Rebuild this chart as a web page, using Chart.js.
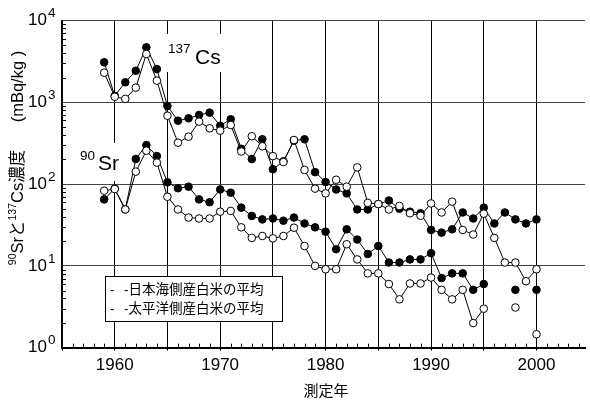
<!DOCTYPE html>
<html>
<head>
<meta charset="utf-8">
<script src="https://cdn.jsdelivr.net/npm/chart.js@4.4.0/dist/chart.umd.min.js"></script>
<style>
  html, body { margin: 0; padding: 0; background: #fff; }
</style>
</head>
<body>
<canvas id="chart" width="590" height="401"></canvas>
<script>
// === Данные ===
const years = [1959, 1960, 1961, 1962, 1963, 1964, 1965, 1966, 1967, 1968, 1969,
  1970, 1971, 1972, 1973, 1974, 1975, 1976, 1977, 1978, 1979,
  1980, 1981, 1982, 1983, 1984, 1985, 1986, 1987, 1988, 1989,
  1990, 1991, 1992, 1993, 1994, 1995, 1996, 1997, 1998, 1999, 2000];

// 137Cs, Japan Sea side (filled)
const csJapanSea = [3085, 1200, 1755, 2430, 4700, 2550, 900, 596, 637, 700, 747,
  517, 620, 270, 202, 353, 152, 190, 340, 353, 140,
  106, 86, 77, 49, 49, 57, 63, 50, 46, 44,
  27.5, 25.5, 28, 45, 38, 51.5, 33, 45, 37, 33, 37];
// 137Cs, Pacific side (open)
const csPacific = [2300, 1170, 1100, 1510, 3890, 1840, 685, 321, 380, 580, 481,
  450, 527, 250, 385, 290, 220, 186, 346, 149, 88,
  77, 113, 93, 160, 59, 57, 49, 54, 44, 41,
  58, 45, 61, 27.5, 24.2, 43.5, 22, 11, 11, 6.5, 9.1];
// 90Sr, Japan Sea side (filled)
const srJapanSea = [65, 88, 49, 203, 300, 220, 105, 89, 93, 65, 60,
  86, 78.5, 51.5, 40.8, 37, 38, 35.7, 39, 33, 29.6,
  26.2, 16, 28, 21, 14, 17.5, 11, 11, 12, 12,
  14.3, 7.1, 8.1, 8.1, 5.1, 6.0, null, null, 5.1, null, 5.1];
// 90Sr, Pacific side (open)
const srPacific = [83, 87, 49, 142, 256, 183, 70, 49, 39, 38, 38,
  46, 47, 29.6, 22, 23.2, 21.7, 23.2, 29.3, 17.5, 10,
  9.1, 9.1, 18.4, 12, 8.1, 8.1, 6, 3.9, 6.1, 6.1,
  7.2, 5.1, 3.9, 5.1, 2.0, 3.0, null, null, 3.1, null, 1.46];

const xTicks = [1955, 1960, 1965, 1970, 1975, 1980, 1985, 1990, 1995, 2000];
const yDecades = [1, 10, 100, 1000, 10000];
const legendLabels = ['-日本海側産白米の平均', '-太平洋側産白米の平均'];

const LATIN = '"Liberation Sans", Arial, sans-serif';
const CJK = '"Liberation Sans", "Noto Sans CJK JP", sans-serif';

function series(values, filled) {
  return {
    data: years.map((y, i) => ({ x: y, y: values[i] })),
    borderColor: '#000',
    borderWidth: 1,
    pointRadius: 3.8,
    pointBorderWidth: 1,
    pointBorderColor: '#000',
    pointBackgroundColor: filled ? '#000' : '#fff',
    tension: 0,
    spanGaps: false,
    order: filled ? 2 : 1
  };
}

// === Подписи, мелкие деления, легенда ===
function label(ctx, boxX, boxY, boxW, boxH, sup, supX, supY, main, mainX, mainY) {
  ctx.fillStyle = '#fff';
  ctx.fillRect(boxX, boxY, boxW, boxH);
  ctx.fillStyle = '#000';
  ctx.textBaseline = 'alphabetic';
  ctx.textAlign = 'left';
  ctx.font = '13.5px ' + LATIN;
  ctx.fillText(sup, supX, supY);
  ctx.font = '21px ' + LATIN;
  ctx.fillText(main, mainX, mainY);
}

const decor = {
  id: 'decor',
  beforeDatasetsDraw(chart) {
    const ctx = chart.ctx;
    ctx.save();
    label(ctx, 165, 34, 60, 38, '137', 168, 53, 'Cs', 195, 63.5);
    label(ctx, 76, 143, 46, 38, '90', 80, 160, 'Sr', 98, 170);
    ctx.restore();
  },
  afterDraw(chart) {
    const ctx = chart.ctx;
    const x = chart.scales.x, y = chart.scales.y;
    const a = chart.chartArea;
    ctx.save();
    ctx.strokeStyle = '#000';
    ctx.lineWidth = 1;
    ctx.beginPath();
    // мелкие деления по X
    for (let yr = 1956; yr < 2005; yr++) {
      if (yr % 5 === 0) continue;
      const px = Math.round(x.getPixelForValue(yr)) + 0.5;
      ctx.moveTo(px, a.bottom);
      ctx.lineTo(px, a.bottom - 4);
    }
    // мелкие деления по Y
    yDecades.slice(0, -1).forEach(d => {
      for (let m = 2; m <= 9; m++) {
        const py = Math.round(y.getPixelForValue(m * d)) + 0.5;
        ctx.moveTo(a.left, py);
        ctx.lineTo(a.left + 4, py);
      }
    });
    ctx.stroke();

    // подписи оси Y: 10^n
    ctx.fillStyle = '#000';
    ctx.textBaseline = 'middle';
    yDecades.forEach((d, n) => {
      const py = y.getPixelForValue(d);
      ctx.font = '17px ' + LATIN;
      ctx.textAlign = 'right';
      ctx.fillText('10', 47, py);
      ctx.font = '13.5px ' + LATIN;
      ctx.textAlign = 'left';
      ctx.fillText(String(n), 48, py - 7);
    });

    // заголовок оси Y
    const parts = [
      ['90', 10.5, -5], ['Sr', 16.5, 0], ['と', 16.5, 0], ['137', 10.5, -5],
      ['Cs濃度', 16.5, 0], ['      (mBq/kg )', 16.5, 0]
    ];
    ctx.translate(18, 158);
    ctx.rotate(-Math.PI / 2);
    let total = 0;
    parts.forEach(p => { ctx.font = p[1] + 'px ' + CJK; total += ctx.measureText(p[0]).width; });
    let cx = -total / 2;
    parts.forEach(p => {
      ctx.font = p[1] + 'px ' + CJK;
      ctx.fillText(p[0], cx, p[2]);
      cx += ctx.measureText(p[0]).width;
    });
    ctx.setTransform(1, 0, 0, 1, 0, 0);

    // заголовок оси X
    ctx.font = '15px "Noto Sans CJK JP", sans-serif';
    ctx.textAlign = 'center';
    ctx.fillText('測定年', 326, 390);

    // легенда
    ctx.fillStyle = '#fff';
    ctx.fillRect(105.5, 276.5, 177, 45);
    ctx.strokeRect(105.5, 276.5, 177, 45);
    ctx.fillStyle = '#000';
    ctx.textAlign = 'left';
    ctx.font = '13.5px ' + CJK;
    legendLabels.forEach((t, i) => {
      const ly = 290 + i * 19;
      ctx.fillText('-', 110, ly);
      ctx.fillText(t, 124, ly);
    });
    ctx.restore();
  }
};

new Chart(document.getElementById('chart'), {
  type: 'line',
  data: {
    datasets: [
      series(csJapanSea, true),
      series(csPacific, false),
      series(srJapanSea, true),
      series(srPacific, false)
    ]
  },
  options: {
    responsive: false,
    animation: false,
    devicePixelRatio: 1,
    layout: { padding: { top: 20.5, right: 0, left: 0, bottom: 0 } },
    plugins: { legend: { display: false }, tooltip: { enabled: false } },
    scales: {
      x: {
        type: 'linear',
        min: 1955,
        max: 2004.6,
        afterBuildTicks: s => { s.ticks = xTicks.map(v => ({ value: v })); },
        afterFit: s => { s.height = 53.3; },
        grid: { color: '#000', lineWidth: 1, drawTicks: true, tickLength: 3, tickColor: '#000' },
        border: { color: '#000', width: 2 },
        ticks: {
          autoSkip: false,
          maxRotation: 0,
          padding: 4,
          color: '#000',
          font: { family: LATIN, size: 17 },
          callback: v => (v % 10 === 0 ? String(v) : '')
        }
      },
      y: {
        type: 'logarithmic',
        min: 1,
        max: 10000,
        afterBuildTicks: s => { s.ticks = yDecades.map(v => ({ value: v })); },
        afterFit: s => { s.width = 62; },
        grid: { color: '#444', lineWidth: 1, drawTicks: false },
        border: { color: '#000', width: 1.5 },
        ticks: { display: false }
      }
    }
  },
  plugins: [decor]
});
</script>
</body>
</html>
